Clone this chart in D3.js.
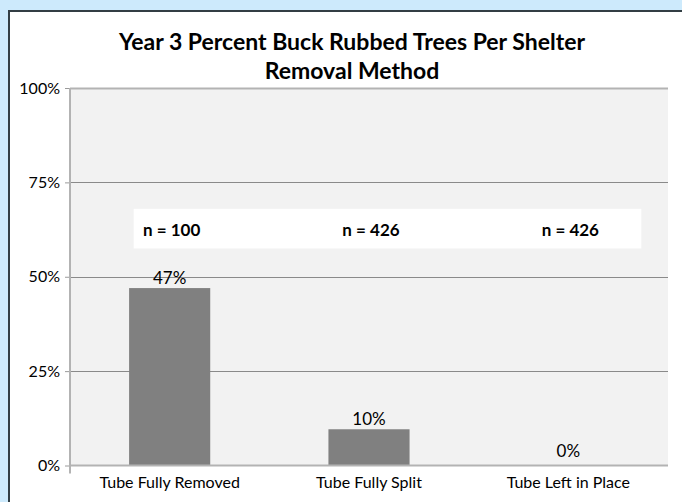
<!DOCTYPE html>
<html>
<head>
<meta charset="utf-8">
<script src="https://cdn.jsdelivr.net/npm/d3@7"></script>
<style>
  body { margin: 0; background: #cdeafc; }
  svg { display: block; }
</style>
</head>
<body>
<script>
'use strict';

// chart values
const categories = ["Tube Fully Removed", "Tube Fully Split", "Tube Left in Place"];
const percents = [0.47, 0.096, 0];
const sampleLabels = ["n = 100", "n = 426", "n = 426"];
const yTicks = [0, 0.25, 0.5, 0.75, 1];
const titleLines = ["Year 3 Percent Buck Rubbed Trees Per Shelter", "Removal Method"];

let width = 682, height = 502;
let plot = { left: 70, right: 668, top: 88, bottom: 465.5 };
let font = "Lato, 'Open Sans', sans-serif";

let svg = d3.select("body").append("svg")
  .attr("width", width)
  .attr("height", height);

// outer frame
svg.append("rect")
  .attr("x", 9).attr("y", 11)
  .attr("width", width + 20).attr("height", height + 20)
  .attr("fill", "#ffffff")
  .attr("stroke", "#323e44")
  .attr("stroke-width", 2);

// title
svg.append("g").selectAll("text")
  .data(titleLines)
  .enter().append("text")
  .attr("x", 352)
  .attr("y", (d, i) => 50 + i * 29)
  .attr("text-anchor", "middle")
  .style("font-family", font)
  .style("font-weight", "bold")
  .style("font-size", "23px")
  .text(d => d);

// scales
let x = d3.scaleBand()
  .domain(categories)
  .range([plot.left, plot.right])
  .paddingInner(0.593)
  .paddingOuter(0.2965);

let y = d3.scaleLinear()
  .domain([0, 1])
  .range([plot.bottom, plot.top]);

// plot area background
svg.append("rect")
  .attr("x", plot.left).attr("y", plot.top)
  .attr("width", plot.right - plot.left)
  .attr("height", plot.bottom - plot.top)
  .attr("fill", "#f2f2f2");

// gridlines
svg.append("g").selectAll("line")
  .data(yTicks.filter(d => d > 0))
  .enter().append("line")
  .attr("x1", plot.left).attr("x2", plot.right)
  .attr("y1", d => Math.round(y(d)) + 0.5)
  .attr("y2", d => Math.round(y(d)) + 0.5)
  .attr("stroke", d => d === 1 ? "#b3b3b3" : "#8a8a8a")
  .attr("stroke-width", d => d === 1 ? 2 : 1);

// y axis
let yAxis = d3.axisLeft(y)
  .tickValues(yTicks)
  .tickFormat(d3.format(".0%"))
  .tickSize(5)
  .tickPadding(5);

let yg = svg.append("g")
  .attr("transform", "translate(" + plot.left + ",0)")
  .call(yAxis);
yg.select(".domain").remove();
yg.append("line")
  .attr("x1", 0).attr("x2", 0)
  .attr("y1", plot.top).attr("y2", plot.bottom + 8)
  .attr("stroke", "#b3b3b3").attr("stroke-width", 2);
yg.selectAll(".tick line").attr("stroke", "#9a9a9a").attr("x2", -5);
yg.selectAll(".tick text")
  .style("font-family", font)
  .style("font-size", "16px")
  .attr("fill", "#000");

// bars
svg.append("g").selectAll("rect")
  .data(percents)
  .enter().append("rect")
  .attr("x", (d, i) => x(categories[i]))
  .attr("y", d => y(d))
  .attr("width", x.bandwidth())
  .attr("height", d => y(0) - y(d))
  .attr("fill", "#808080");

// x axis
let xAxis = d3.axisBottom(x).tickSize(0).tickPadding(11);
let xg = svg.append("g")
  .attr("transform", "translate(0," + plot.bottom + ")")
  .call(xAxis);
xg.select(".domain").remove();
xg.append("line")
  .attr("x1", plot.left).attr("x2", plot.right)
  .attr("y1", 0).attr("y2", 0)
  .attr("stroke", "#b3b3b3").attr("stroke-width", 2);
xg.selectAll(".tick text")
  .style("font-family", font)
  .style("font-size", "16px")
  .attr("fill", "#000");

// value labels
svg.append("g").selectAll("text")
  .data(percents)
  .enter().append("text")
  .attr("x", (d, i) => x(categories[i]) + x.bandwidth() / 2)
  .attr("y", d => Math.min(y(d) - 4, y(0) - 9))
  .attr("text-anchor", "middle")
  .style("font-family", font)
  .style("font-size", "17px")
  .text(d => d3.format(".0%")(d));

// sample size box
let boxLeft = x(categories[0]) + x.bandwidth() / 2 - 36;
let boxRight = x(categories[2]) + x.bandwidth() / 2 + 73;
svg.append("rect")
  .attr("x", boxLeft)
  .attr("y", y(0.68))
  .attr("width", boxRight - boxLeft)
  .attr("height", y(0.575) - y(0.68))
  .attr("fill", "#ffffff");

svg.append("g").selectAll("text")
  .data(sampleLabels)
  .enter().append("text")
  .attr("x", (d, i) => x(categories[i]) + x.bandwidth() / 2 + 2)
  .attr("y", y(0.625) + 6)
  .attr("text-anchor", "middle")
  .style("font-family", font)
  .style("font-weight", "bold")
  .style("font-size", "17px")
  .text(d => d);
</script>
</body>
</html>
